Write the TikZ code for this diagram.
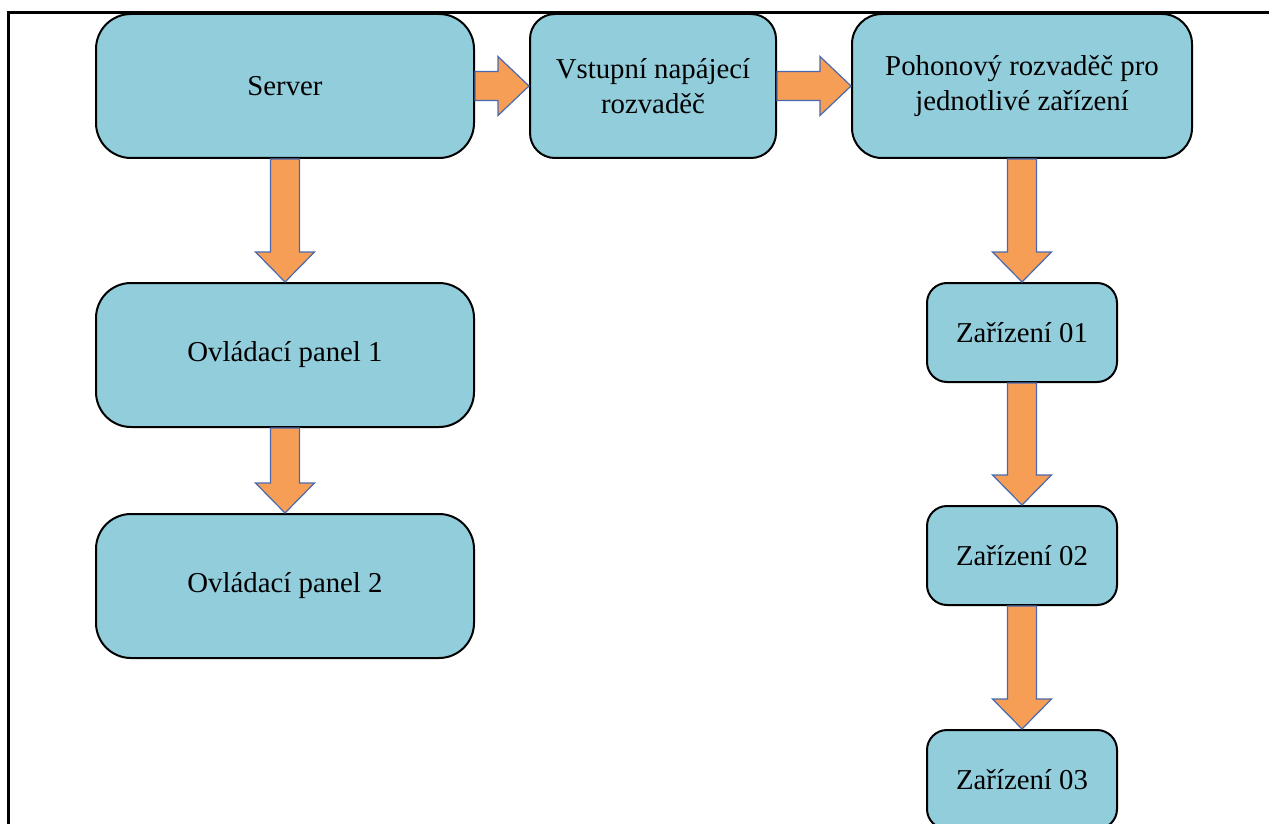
\documentclass[tikz,border=0pt]{standalone}
\usepackage{fontspec}
\setmainfont{Liberation Serif}
\usetikzlibrary{calc}
\definecolor{boxfill}{RGB}{146,205,220}
\definecolor{arrowfill}{RGB}{246,157,86}
\definecolor{arrowline}{RGB}{74,106,176}
\tikzset{
  unit/.style={x=1pt,y=-1pt},
  box/.style={draw=black,line width=2pt,fill=boxfill,align=center,
    font=\fontsize{28.8}{35}\selectfont,inner sep=0pt},
  bigbox/.style={box,minimum width=378pt,minimum height=144pt,rounded corners=35pt},
  midbox/.style={box,minimum width=246pt,minimum height=144pt,rounded corners=25pt},
  widebox/.style={box,minimum width=340pt,minimum height=144pt,rounded corners=30pt},
  smallbox/.style={box,minimum width=190pt,minimum height=99pt,rounded corners=20pt},
  blockarrow/.style={draw=arrowline,line width=1.2pt,fill=arrowfill,line join=miter},
  frameline/.style={draw=black,line width=3pt}
}
% thick block arrow pointing down, from the bottom of #1 to the top of #2
\newcommand\flowdown[2]{%
  \path[blockarrow] let \p1=(#1.south), \p2=(#2.north) in
    (\x1-14.5pt,\y1) -- (\x1+14.5pt,\y1) -- (\x1+14.5pt,\y2+30pt) --
    (\x1+29.5pt,\y2+30pt) -- (\x1,\y2) -- (\x1-29.5pt,\y2+30pt) --
    (\x1-14.5pt,\y2+30pt) -- cycle;}
% thick block arrow pointing right, from the right side of #1 to the left side of #2
\newcommand\flowright[2]{%
  \path[blockarrow] let \p1=(#1.east), \p2=(#2.west) in
    (\x1,\y1+14.5pt) -- (\x1,\y1-14.5pt) -- (\x2-31pt,\y1-14.5pt) --
    (\x2-31pt,\y1-29.5pt) -- (\x2,\y1) -- (\x2-31pt,\y1+29.5pt) --
    (\x2-31pt,\y1+14.5pt) -- cycle;}
\begin{document}
\begin{tikzpicture}[unit]
  \clip (0,0) rectangle (1269,824);
  \fill[white] (0,0) rectangle (1269,824);

  % left column
  \node[bigbox] (server) at (285,86) {Server};
  \node[bigbox] (panel1) at (285,355) {Ovládací panel 1};
  \node[bigbox] (panel2) at (285,586) {Ovládací panel 2};

  % power distribution
  \node[midbox] (vstup) at (653,86) {Vstupní napájecí\\rozvaděč};
  \node[widebox] (pohon) at (1022,86) {Pohonový rozvaděč pro\\jednotlivé zařízení};

  % devices
  \node[smallbox] (dev1) at (1022,332.5) {Zařízení 01};
  \node[smallbox] (dev2) at (1022,555.5) {Zařízení 02};
  \node[smallbox] (dev3) at (1022,779.5) {Zařízení 03};

  % connectors
  \flowright{server}{vstup}
  \flowright{vstup}{pohon}
  \flowdown{server}{panel1}
  \flowdown{panel1}{panel2}
  \flowdown{pohon}{dev1}
  \flowdown{dev1}{dev2}
  \flowdown{dev2}{dev3}

  % page frame
  \draw[frameline] (8,824) -- (8,13) -- (1269,13);
\end{tikzpicture}
\end{document}
